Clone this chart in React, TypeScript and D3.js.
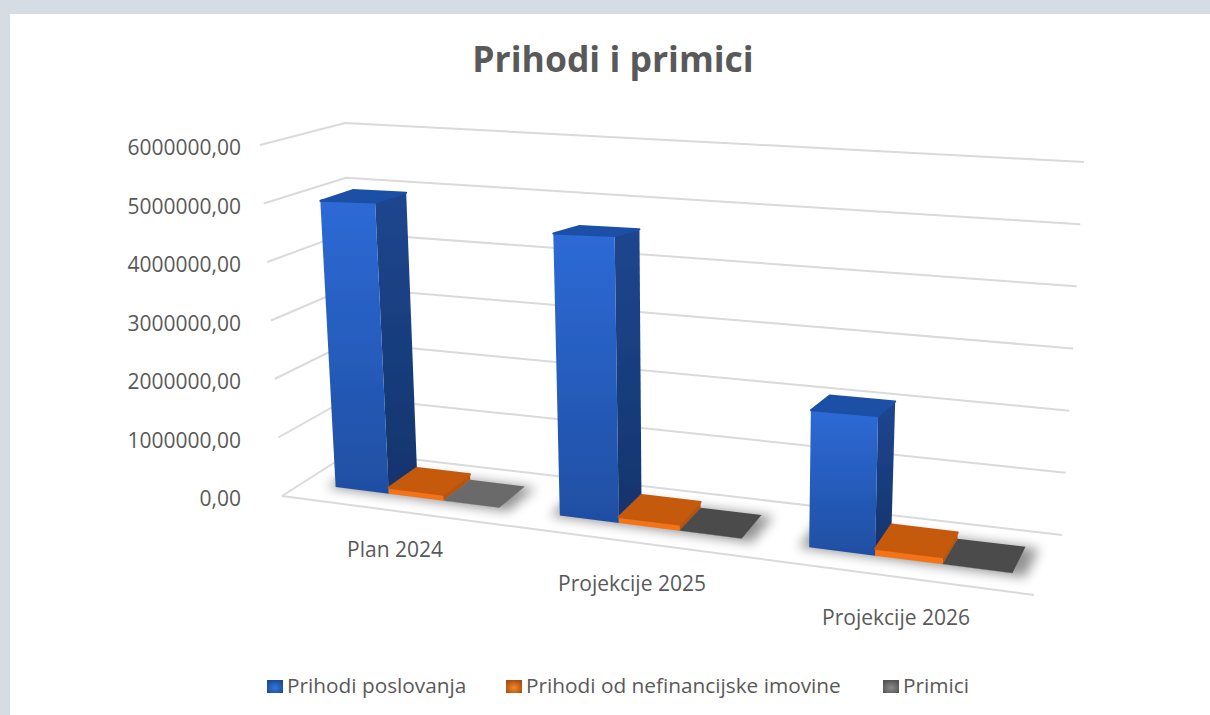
import React from "react";
import * as d3 from "d3";

const categories = ["Plan 2024", "Projekcije 2025", "Projekcije 2026"];
const seriesNames = ["Prihodi poslovanja", "Prihodi od nefinancijske imovine", "Primici"];
const prihodiPoslovanja = [4930000, 4520000, 2040000];
const prihodiNefinancijske = [100000, 95000, 100000];
const primici = [3000, 3000, 3000];
const seriesValues = [prihodiPoslovanja, prihodiNefinancijske, primici];
const yTicks = [0, 1000000, 2000000, 3000000, 4000000, 5000000, 6000000];

const width = 1210;
const height = 715;
const fontFamily = '"Open Sans", sans-serif';
const textColor = "#595959";

// ugly but works: corners of the 3d box as seen on screen
const floor = { bl: [351, 452], br: [1062, 535], fl: [282, 496], fr: [1034, 595] };
const ceiling = { bl: [345, 123], br: [1084, 162], fl: [260, 145], fr: [1052, 140] };
const barDepth = [0.26, 0.7];
const perspective = -0.15; // right side is nearer to the camera
const leanPower = 1.2; // verticals fan out faster towards the right
const wallLean = ceiling.bl[0] - floor.bl[0];
const barLean = -14; // bars lean a bit more than the left wall does

const barColors = [
    { front: ["#2d6ad6", "#1f4fa3"], side: ["#1c468f", "#16346c"], top: "#1e4fa6" },
    { front: ["#f47314", "#f47314"], side: ["#b9520c", "#b9520c"], top: "#c55a0f" },
    { front: ["#5a5a5a", "#5a5a5a"], side: ["#4a4a4a", "#4a4a4a"], top: "#4a4a4a" },
];
const primiciTop = ["#6b6b6b", "#4b4b4b", "#4b4b4b"];
const swatchCenter = ["#2f78e0", "#f58a2a", "#8c8c8c"];
const swatchEdge = ["#1d4a96", "#a84e10", "#555555"];
const legendX = [267, 506, 883];
const categoryLabelDy = [38, 41, 41];

const yScale = d3.scaleLinear().domain([0, 6000000]).range([0, 1]);
const groupScale = d3.scaleBand<string>().domain(categories).range([0, 1]).paddingInner(0.26).paddingOuter(0.13).align(0.6);
const seriesScale = d3.scaleBand<string>().domain(seriesNames).range([0, groupScale.bandwidth()]);

const mix = (a: number[], b: number[], k: number) => [a[0] + (b[0] - a[0]) * k, a[1] + (b[1] - a[1]) * k];

// t: along the category axis, d: 0 back - 1 front, v: value
const project = (t: number, d: number, v: number, backLean = wallLean) => {
    const u = (t * (1 + perspective)) / (1 + perspective * t);
    const h = yScale(v);
    const atFloor = mix(mix(floor.bl, floor.br, u), mix(floor.fl, floor.fr, u), d);
    const topY = mix(mix(ceiling.bl, ceiling.br, u), mix(ceiling.fl, ceiling.fr, u), d)[1];
    // x of the top goes from the floor x plus a lean that is not linear in u
    const uLean = Math.pow(Math.max(u, 0), leanPower);
    const leanBack = backLean + (ceiling.br[0] - floor.br[0] - backLean) * uLean;
    const leanFront = ceiling.fl[0] - floor.fl[0] + (ceiling.fr[0] - floor.fr[0] - (ceiling.fl[0] - floor.fl[0])) * uLean;
    const lean = leanBack + (leanFront - leanBack) * d;
    return [atFloor[0] + lean * h, atFloor[1] + (topY - atFloor[1]) * h];
};

const line = d3.line();
const poly = (pts: number[][]) => line(pts as [number, number][]) + "Z";

const Bar = ({ g, s }: { g: number; s: number }) => {
    const t0 = (groupScale(categories[g]) as number) + (seriesScale(seriesNames[s]) as number);
    const t1 = t0 + seriesScale.bandwidth();
    const [d0, d1] = barDepth;
    const v = seriesValues[s][g];
    const id = `${g}-${s}`;
    const top = s === 2 ? primiciTop[g] : barColors[s].top;
    const p = (t: number, d: number, val: number) => project(t, d, val, barLean);
    return (
        <g>
            <linearGradient id={`front-${id}`} x1="0" x2="0" y1="0" y2="1">
                <stop offset="0" stopColor={barColors[s].front[0]} />
                <stop offset="1" stopColor={barColors[s].front[1]} />
            </linearGradient>
            <linearGradient id={`side-${id}`} x1="0" x2="0" y1="0" y2="1">
                <stop offset="0" stopColor={barColors[s].side[0]} />
                <stop offset="1" stopColor={barColors[s].side[1]} />
            </linearGradient>
            <path
                d={poly([p(t1, d1, 0), p(t1, d0, 0), p(t1, d0, v), p(t1, d1, v)])}
                fill={`url(#side-${id})`}
            />
            <path
                d={poly([p(t0, d1, 0), p(t1, d1, 0), p(t1, d1, v), p(t0, d1, v)])}
                fill={`url(#front-${id})`}
            />
            <path
                d={poly([p(t0, d1, v), p(t1, d1, v), p(t1, d0, v), p(t0, d0, v)])}
                fill={top}
                stroke={top}
                strokeWidth={s === 2 ? 0 : 2}
                strokeLinejoin="round"
            />
        </g>
    );
};

export default function App() {
    return (
        <svg
            width={width}
            height={height}
            style={{ position: "absolute", top: 0, left: 0, display: "block" }}
            fontFamily={fontFamily}
        >
            <defs>
                <filter id="soft" x="-10%" y="-10%" width="120%" height="120%">
                    <feGaussianBlur stdDeviation="0.7" />
                </filter>
                <filter id="shadow" x="-30%" y="-50%" width="160%" height="200%">
                    <feGaussianBlur stdDeviation="6" />
                </filter>
                {swatchCenter.map((c, i) => (
                    <radialGradient key={i} id={`swatch-${i}`} cx="0.5" cy="0.6" r="0.6">
                        <stop offset="0" stopColor={c} />
                        <stop offset="1" stopColor={swatchEdge[i]} />
                    </radialGradient>
                ))}
            </defs>

            <rect width={width} height={height} fill="#d6dce4" />
            <rect x={10} y={14} width={width - 10} height={height - 14} fill="#fff" />

            <text x={613} y={72} textAnchor="middle" fontSize={35.5} fontWeight={700} fill={textColor}>
                Prihodi i primici
            </text>

            {/* grid */}
            <g fill="none" stroke="#dadada" strokeWidth={2} filter="url(#soft)">
                {yTicks.map((tick) => (
                    <path key={tick} d={line([project(0, 1, tick), project(0, 0, tick), project(1, 0, tick)] as [number, number][]) as string} />
                ))}
                <path d={line([project(0, 1, 0), project(1, 1, 0)] as [number, number][]) as string} />
            </g>

            {yTicks.map((tick) => (
                <text
                    key={tick}
                    x={241}
                    y={project(0, 1, tick)[1] + 3}
                    dy="0.35em"
                    textAnchor="end"
                    fontSize={21}
                    fill={textColor}
                >
                    {d3.format(".2f")(tick).replace(".", ",")}
                </text>
            ))}

            {/* shadows then bars, left to right */}
            {categories.map((cat) => {
                const t0 = groupScale(cat) as number;
                const t1 = t0 + groupScale.bandwidth();
                return (
                    <path
                        key={cat}
                        d={poly([
                            project(t0 - 0.012, barDepth[1] + 0.02, 0),
                            project(t1 + 0.016, barDepth[1] + 0.04, 0),
                            project(t1 + 0.016, barDepth[0], 0),
                            project(t0 - 0.012, barDepth[0], 0),
                        ])}
                        fill="#000"
                        opacity={0.42}
                        filter="url(#shadow)"
                    />
                );
            })}
            <g filter="url(#soft)">
                {categories.map((cat, g) =>
                    seriesNames.map((name, s) => <Bar key={cat + name} g={g} s={s} />)
                )}
            </g>

            {categories.map((cat, g) => {
                const t = (groupScale(cat) as number) + groupScale.bandwidth() / 2;
                const [x, y] = project(t, 1, 0);
                return (
                    <text key={cat} x={x - 2} y={y + categoryLabelDy[g]} dy="0.35em" textAnchor="middle" fontSize={21} fill={textColor}>
                        {cat}
                    </text>
                );
            })}

            {seriesNames.map((name, i) => (
                <g key={name}>
                    <rect x={legendX[i]} y={680} width={16} height={13} fill={`url(#swatch-${i})`} />
                    <text x={legendX[i] + 20} y={686} dy="0.35em" fontSize={20.8} fill={textColor}>
                        {name}
                    </text>
                </g>
            ))}
        </svg>
    );
}
